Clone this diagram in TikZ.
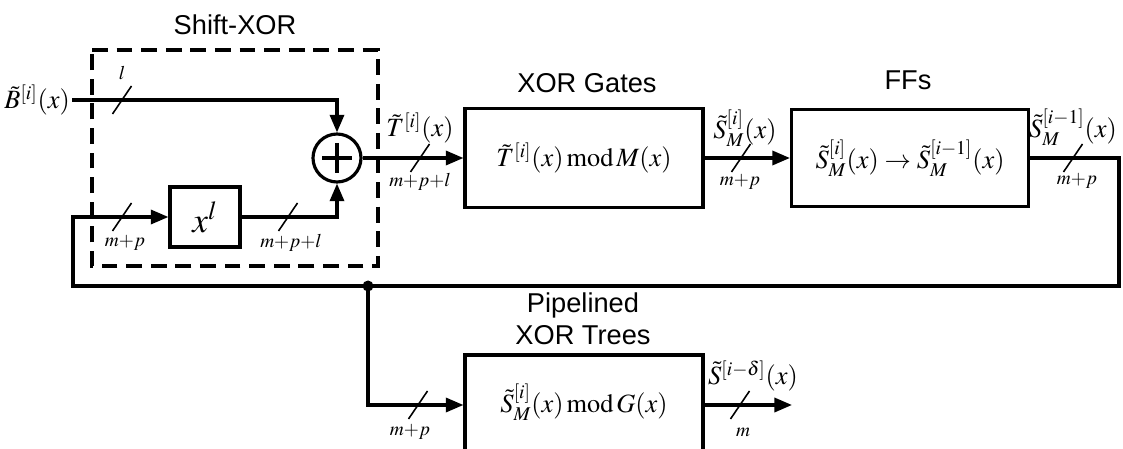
\documentclass[tikz,border=0pt]{standalone}
\usepackage{mathptmx}
\usepackage{fontspec}
\setsansfont{Liberation Sans}
\usetikzlibrary{arrows.meta, positioning}
\tikzset{
  blk/.style={rectangle, draw=black, line width=1.8pt, fill=white,
              align=center, font=\fontsize{15}{17}\selectfont},
  ttl/.style={font=\sffamily\fontsize{15.5}{18}\selectfont, align=center},
  lbl/.style={font=\fontsize{15}{17}\selectfont, inner sep=1pt},
  wid/.style={font=\fontsize{11}{12}\selectfont, inner sep=1pt},
  arr/.style={line width=1.8pt, -{Triangle[length=10pt,width=8pt]}},
  busmark/.pic={\draw[line width=0.9pt] (-9.5,14) -- (9.5,-14);},
}

\begin{document}
\begin{tikzpicture}[x=0.02cm, y=-0.02cm,
    xorc/.style={circle, draw=black, line width=1.8pt, minimum size=0.96cm,
                 inner sep=0pt},
  ]
  \useasboundingbox (0,0) rectangle (1123,449);
  \clip (0,0) rectangle (1123,449);
  % shift-xor part
  \node[ttl] (tshift) at (235,25) {Shift-XOR};
  \draw[line width=2pt, dash pattern=on 9pt off 5pt] (92,50) -- (378,50)
    -- (378,266) -- (92,266) -- cycle;
  \node[xorc] (xor) at (337,158) {};
  \draw[line width=1.8pt] (xor.center) ++(-15,0) -- ++(30,0)
                          (xor.center) ++(0,-15) -- ++(0,30);
  \node[blk, minimum width=1.4cm, minimum height=1.2cm,
        font=\fontsize{20}{22}\selectfont] (xl) at (205,217) {$x^{l}$};
  % blocks
  \node[blk, minimum width=4.76cm, minimum height=1.98cm] (gates) at (584,158)
    {$\tilde{T}^{[i]}(x)\,\mathrm{mod}\,M(x)$};
  \node[ttl] (tgates) at (587,83) {XOR Gates};
  \node[blk, minimum width=4.74cm, minimum height=1.94cm] (ffs) at (910,158)
    {$\tilde{S}_M^{[i]}(x)\rightarrow\tilde{S}_M^{[i-1]}(x)$};
  \node[ttl] (tffs) at (908,80) {FFs};
  \node[blk, minimum width=4.76cm, minimum height=2cm] (trees) at (584,405)
    {\raisebox{8pt}{$\tilde{S}_M^{[i]}(x)\,\mathrm{mod}\,G(x)$}};
  \node[ttl] (ttrees) at (583,319) {Pipelined\\XOR Trees};
  % signals
  \node[lbl, anchor=east] (bin) at (72,100) {$\tilde{B}^{[i]}(x)$};
  \node[lbl] (ti) at (420,128) {$\tilde{T}^{[i]}(x)$};
  \node[lbl] (smi) at (745,128) {$\tilde{S}_M^{[i]}(x)$};
  \node[lbl] (smo) at (1073,127) {$\tilde{S}_M^{[i-1]}(x)$};
  \node[lbl] (sdel) at (753,376) {$\tilde{S}^{[i-\delta]}(x)$};
  \coordinate (dot) at (368,286);
  \coordinate (sout) at (792,405);
  \draw[arr] (bin.east) -| (xor.north);
  \draw[arr] (xl.east) -| (xor.south);
  \draw[arr] (xor.east) -- (gates.west);
  \draw[arr] (gates.east) -- (ffs.west);
  \draw[arr] (ffs.east) -| (1119,286) -- (73,286) |- (xl.west);
  \draw[arr] (dot) |- (trees.west);
  \draw[arr] (trees.east) -- (sout);
  \fill (dot) circle (5.5);
  % bus widths
  \foreach \x/\y in {122/100, 122/217, 288/217, 420/158, 741/158,
                     1073/158, 418/405, 740/405}
    \pic at (\x,\y) {busmark};
  \foreach \x/\y/\t [count=\i] in {122/73/l, 125/243/m{+}p, 291/243/m{+}p{+}l,
      420/182/m{+}p{+}l, 740/182/m{+}p, 1077/181/m{+}p, 410/432/m{+}p, 743/432/m}
    \node[wid] (w\i) at (\x,\y) {$\t$};
\end{tikzpicture}
\end{document}
